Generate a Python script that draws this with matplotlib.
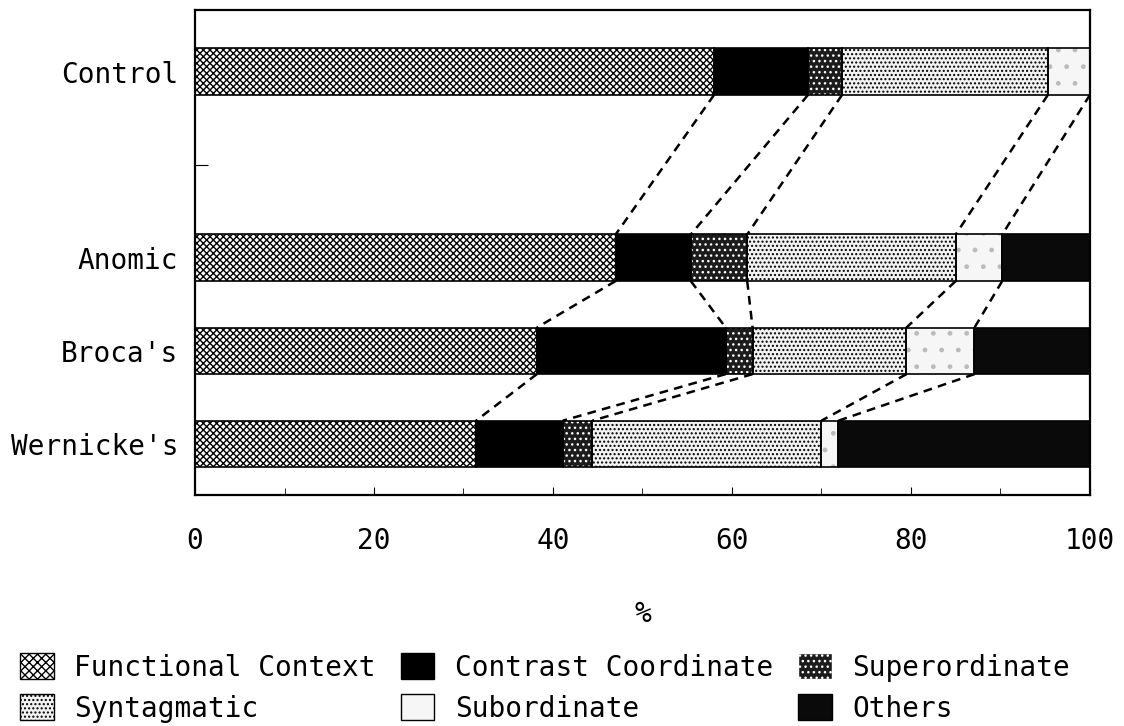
import numpy as np
import matplotlib
matplotlib.use('Agg')
import matplotlib.pyplot as plt
import matplotlib.patches as mpatches

plt.rcParams['font.family'] = ['DejaVu Sans Mono']
plt.rcParams['hatch.linewidth'] = 1.0

# groups (top to bottom) and their slot on the y axis (slot 1 is left empty)
groups = ['Control', 'Anomic', "Broca's", "Wernicke's"]
group_pos = [0, 2, 3, 4]
y_ticks = [0, 1, 2, 3, 4]
y_tick_labels = ['Control', '', 'Anomic', "Broca's", "Wernicke's"]

categories = ['Functional Context', 'Contrast Coordinate', 'Superordinate',
              'Syntagmatic', 'Subordinate', 'Others']

# percentages
functional_context = [58.0, 47.0, 38.2, 31.4]
contrast_coordinate = [10.5, 8.4, 21.1, 9.7]
superordinate = [3.8, 6.3, 3.0, 3.3]
syntagmatic = [23.0, 23.3, 17.2, 25.6]
subordinate = [4.7, 5.2, 7.6, 1.9]
others = [0.0, 9.8, 12.9, 28.1]

x_ticks = [0, 20, 40, 60, 80, 100]
x_minor = [10, 30, 50, 70, 90]

series = [functional_context, contrast_coordinate, superordinate,
          syntagmatic, subordinate, others]

# face colour, hatch, hatch colour
styles = [
    ('white', 'xxxxx', 'black'),
    ('black', None, 'black'),
    ('#1c1c1c', '...', 'white'),
    ('#f2f2f2', '....', 'black'),
    ('#f6f6f6', '.', '#bbbbbb'),
    ('#0a0a0a', None, 'black'),
]

bar_h = 0.5

fig = plt.figure(figsize=(11.24, 7.26), dpi=100)
ax = fig.add_axes([0.1735, 0.318, 0.7962, 0.668])

left = np.zeros(len(groups))
for vals, (face, hatch, hcol) in zip(series, styles):
    vals = np.array(vals)
    # fill + hatch, then a black outline on top
    ax.barh(group_pos, vals, left=left, height=bar_h, color=face,
            edgecolor=hcol, hatch=hatch, linewidth=0, zorder=2)
    ax.barh(group_pos, vals, left=left, height=bar_h, fill=False,
            edgecolor='black', linewidth=1.2, zorder=3)
    left = left + vals

# dashed lines joining the boundaries of consecutive bars
cum = np.cumsum(np.array(series), axis=0)
for i in range(len(groups) - 1):
    for k in range(5):
        ax.plot([cum[k][i], cum[k][i + 1]],
                [group_pos[i] + bar_h / 2, group_pos[i + 1] - bar_h / 2],
                color='black', linestyle=(0, (3.5, 2.5)), linewidth=1.8, zorder=1)

ax.set_xlim(0, 100)
ax.set_ylim(4.55, -0.66)
ax.set_xticks(x_ticks)
ax.set_xticks(x_minor, minor=True)
ax.set_yticks(y_ticks)
ax.set_yticklabels(y_tick_labels)
ax.tick_params(axis='both', which='both', direction='in', labelsize=20)
ax.tick_params(axis='x', which='major', length=6, pad=23)
ax.tick_params(axis='x', which='minor', length=5)
ax.tick_params(axis='y', length=9, pad=12)
for s in ax.spines.values():
    s.set_linewidth(1.6)
ax.set_xlabel('%', fontsize=20, labelpad=32)

# legend swatches: hatch colour follows edgecolor, so keep black edges where it matters
legend_styles = [
    ('white', 'xxxx', 'black'),
    ('black', None, 'black'),
    ('#1c1c1c', '...', 'white'),
    ('#f2f2f2', '....', 'black'),
    ('#f6f6f6', None, 'black'),
    ('#0a0a0a', None, 'black'),
]
handles = [mpatches.Patch(facecolor=f, edgecolor=c, hatch=h, linewidth=1.0)
           for f, h, c in legend_styles]
# legend fills column by column, so reorder to get three per row
order = [0, 3, 1, 4, 2, 5]
fig.legend([handles[i] for i in order], [categories[i] for i in order],
           ncol=3, loc='upper left', bbox_to_anchor=(0.018, 0.10),
           frameon=False, fontsize=20, handlelength=1.2, handleheight=1.05,
           handletextpad=0.75, columnspacing=0.9, labelspacing=0.45,
           borderpad=0, borderaxespad=0)

plt.savefig('out.png', dpi=100)
